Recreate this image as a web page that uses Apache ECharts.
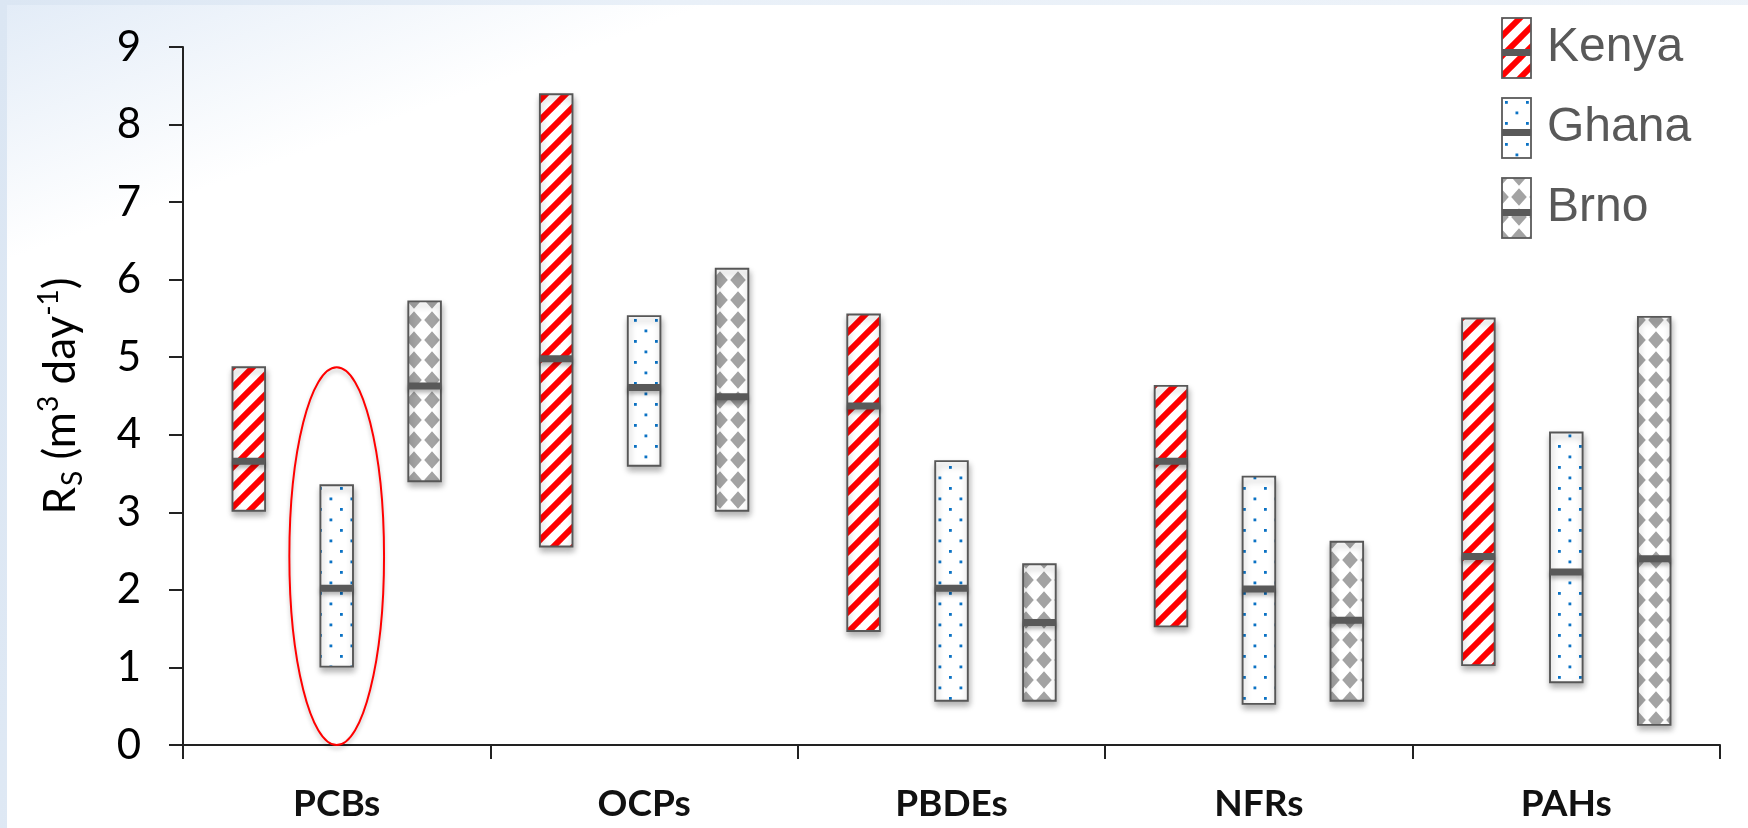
<!DOCTYPE html>
<html>
<head>
<meta charset="utf-8">
<script src="https://cdn.jsdelivr.net/npm/echarts@6/dist/echarts.min.js"></script>
<style>
  html, body { margin:0; padding:0; width:1748px; height:828px; overflow:hidden;
    background: linear-gradient(100deg, #dbe6f3 0%, #e9f0f8 35%, #eef3f9 100%); }
  #panel { position:absolute; left:7px; top:5px; right:0; bottom:0;
    background: linear-gradient(160deg, rgba(228,237,248,0.85) 0px, rgba(255,255,255,1) 240px); }
  #chart { position:absolute; left:0; top:0; width:1748px; height:828px; }
</style>
</head>
<body>
<div id="panel"></div>
<div id="chart"></div>
<script>
// ---- data ----
var categories = ['PCBs', 'OCPs', 'PBDEs', 'NFRs', 'PAHs'];
var seriesNames = ['Kenya', 'Ghana', 'Brno'];

var kenyaLow    = [3.02, 2.56, 1.47, 1.53, 1.03];
var kenyaMedian = [3.66, 4.98, 4.37, 3.66, 2.43];
var kenyaHigh   = [4.87, 8.39, 5.55, 4.63, 5.50];

var ghanaLow    = [1.01, 3.60, 0.57, 0.53, 0.81];
var ghanaMedian = [2.02, 4.61, 2.02, 2.01, 2.23];
var ghanaHigh   = [3.35, 5.53, 3.66, 3.46, 4.03];

var brnoLow     = [3.40, 3.02, 0.57, 0.57, 0.26];
var brnoMedian  = [4.63, 4.49, 1.58, 1.61, 2.40];
var brnoHigh    = [5.72, 6.14, 2.33, 2.62, 5.52];

var yTicks = [0, 1, 2, 3, 4, 5, 6, 7, 8, 9];

// highlighted range (red ellipse): category, series, low, high
var highlightCategory = 'PCBs';
var highlightSeries = 'Ghana';
var highlightRange = [0, 4.87];

// ---- patterns ----
function makeCanvas(w, h) {
  var c = document.createElement('canvas');
  c.width = w; c.height = h;
  return c;
}
function stripePattern() {
  var s = 20, c = makeCanvas(s, s), ctx = c.getContext('2d');
  ctx.fillStyle = '#ffffff'; ctx.fillRect(0, 0, s, s);
  ctx.fillStyle = '#ff0000';
  var t = 4.2; // half horizontal thickness of red band
  for (var k = -1; k <= 1; k++) {
    var x0 = k * s;
    ctx.beginPath();
    ctx.moveTo(x0 - t, s + 0.001);
    ctx.lineTo(x0 + t, s + 0.001);
    ctx.lineTo(x0 + s + t, 0);
    ctx.lineTo(x0 + s - t, 0);
    ctx.closePath();
    ctx.fill();
  }
  return c;
}
function dotPattern() {
  var s = 21, c = makeCanvas(s, s), ctx = c.getContext('2d');
  ctx.fillStyle = '#ffffff'; ctx.fillRect(0, 0, s, s);
  ctx.fillStyle = '#0b72c4';
  ctx.fillRect(4, 4, 2.8, 2.8);
  ctx.fillRect(14.5, 14.5, 2.8, 2.8);
  return c;
}
function diamondPattern() {
  var w = 18, h = 20, c = makeCanvas(w, h), ctx = c.getContext('2d');
  ctx.fillStyle = '#ffffff'; ctx.fillRect(0, 0, w, h);
  ctx.fillStyle = '#a3a3a3';
  var hw = 7.8, hh = 8.8;
  var centers = [[0,0],[w,0],[0,h],[w,h]];
  centers.forEach(function (p) {
    ctx.beginPath();
    ctx.moveTo(p[0], p[1] - hh); ctx.lineTo(p[0] + hw, p[1]);
    ctx.lineTo(p[0], p[1] + hh); ctx.lineTo(p[0] - hw, p[1]);
    ctx.closePath(); ctx.fill();
  });
  return c;
}
var patterns = [stripePattern(), dotPattern(), diamondPattern()];

function legendIcon(pat) {
  var w = 31, h = 62, c = makeCanvas(w, h), ctx = c.getContext('2d');
  ctx.fillStyle = ctx.createPattern(pat, 'repeat');
  ctx.fillRect(1, 1, w - 2, h - 2);
  ctx.fillStyle = '#595959';
  ctx.fillRect(1, Math.round(h * 0.56) - 3, w - 2, 7);
  ctx.strokeStyle = '#5a5a5a'; ctx.lineWidth = 1.8;
  ctx.strokeRect(1, 1, w - 2, h - 2);
  return 'image://' + c.toDataURL();
}

// ---- build series data ----
function rows(low, med, high) {
  return categories.map(function (c, i) { return [i, low[i], med[i], high[i]]; });
}
var seriesRows = [
  rows(kenyaLow, kenyaMedian, kenyaHigh),
  rows(ghanaLow, ghanaMedian, ghanaHigh),
  rows(brnoLow, brnoMedian, brnoHigh)
];

var OFFSET = 0.286;   // fraction of category band between neighbouring boxes
var BOXW = 0.106;     // box width as fraction of band

function boxRenderer(sIdx) {
  return function (params, api) {
    var ci = api.value(0);
    var lowP = api.coord([ci, api.value(1)]);
    var medP = api.coord([ci, api.value(2)]);
    var highP = api.coord([ci, api.value(3)]);
    var band = api.size([1, 0])[0];
    var w = band * BOXW;
    var cx = lowP[0] + band * OFFSET * (sIdx - 1);
    var x = cx - w / 2;
    return {
      type: 'group',
      children: [
        {
          type: 'rect',
          shape: { x: x, y: highP[1], width: w, height: lowP[1] - highP[1] },
          style: {
            fill: { image: patterns[sIdx], repeat: 'repeat' },
            stroke: '#575757', lineWidth: 1.9,
            shadowBlur: 6, shadowColor: 'rgba(0,0,0,0.30)', shadowOffsetX: 1, shadowOffsetY: 4
          }
        },
        {
          type: 'rect',
          shape: { x: x, y: medP[1] - 3.5, width: w, height: 7 },
          style: { fill: '#595959', shadowBlur: 4, shadowColor: 'rgba(0,0,0,0.30)', shadowOffsetY: 3 }
        }
      ]
    };
  };
}

var series = seriesNames.map(function (name, sIdx) {
  return {
    name: name,
    type: 'custom',
    renderItem: boxRenderer(sIdx),
    encode: { x: 0, y: [1, 2, 3] },
    data: seriesRows[sIdx],
    z: 3
  };
});

series.push({
  name: 'highlight',
  type: 'custom',
  silent: true,
  z: 4,
  encode: { x: 0, y: [1, 2] },
  data: [[categories.indexOf(highlightCategory), highlightRange[0], highlightRange[1]]],
  renderItem: function (params, api) {
    var ci = api.value(0);
    var lo = api.coord([ci, api.value(1)]);
    var hi = api.coord([ci, api.value(2)]);
    var band = api.size([1, 0])[0];
    var sIdx = seriesNames.indexOf(highlightSeries);
    var cx = lo[0] + band * OFFSET * (sIdx - 1);
    return {
      type: 'ellipse',
      shape: { cx: cx, cy: (lo[1] + hi[1]) / 2, rx: band * 0.154, ry: (lo[1] - hi[1]) / 2 },
      style: { fill: null, stroke: '#ff0000', lineWidth: 2, shadowBlur: 4, shadowColor: 'rgba(0,0,0,0.25)', shadowOffsetY: 3 }
    };
  }
});

var chart = echarts.init(document.getElementById('chart'), null, { renderer: 'canvas' });
chart.setOption({
  animation: false,
  backgroundColor: 'transparent',
  grid: { left: 183, right: 28, top: 47, bottom: 83, containLabel: false },
  legend: {
    orient: 'vertical',
    left: 1501, top: 17, padding: 0,
    itemWidth: 31, itemHeight: 62, itemGap: 18,
    data: seriesNames.map(function (n, i) { return { name: n, icon: legendIcon(patterns[i]) }; }),
    textStyle: { fontFamily: 'Liberation Sans', fontSize: 48, color: '#595959', padding: [0, 0, 0, 10] },
    selectedMode: false
  },
  xAxis: {
    type: 'category',
    data: categories,
    boundaryGap: true,
    axisLine: { lineStyle: { color: '#222222', width: 2 } },
    axisTick: { show: true, length: 14, lineStyle: { color: '#222222', width: 2 } },
    axisLabel: { margin: 39, fontFamily: 'Lato', fontWeight: 'bold', fontSize: 37, color: '#111111', lineHeight: 40 },
    splitLine: { show: false }
  },
  yAxis: {
    type: 'value',
    min: yTicks[0], max: yTicks[yTicks.length - 1], interval: 1,
    axisLine: { show: true, lineStyle: { color: '#222222', width: 2 } },
    axisTick: { show: true, length: 14, lineStyle: { color: '#222222', width: 2 } },
    axisLabel: { margin: 42, fontFamily: 'Lato', fontSize: 42, color: '#000000' },
    splitLine: { show: false },
    name: '{r|R}{sub|S}{r| (m}{sup|3}{r| day}{sup|-1}{r|)}',
    nameLocation: 'middle',
    nameGap: 96,
    nameTextStyle: {
      fontFamily: 'Lato', fontSize: 44, color: '#000000',
      rich: {
        r: { fontFamily: 'Lato', fontSize: 44, lineHeight: 52, verticalAlign: 'middle', color: '#000' },
        sub: { fontFamily: 'Lato', fontSize: 28, lineHeight: 52, verticalAlign: 'bottom', color: '#000', padding: [0, 0, 0, 1] },
        sup: { fontFamily: 'Lato', fontSize: 28, lineHeight: 52, verticalAlign: 'top', color: '#000' }
      }
    }
  },
  series: series
});
</script>
</body>
</html>
